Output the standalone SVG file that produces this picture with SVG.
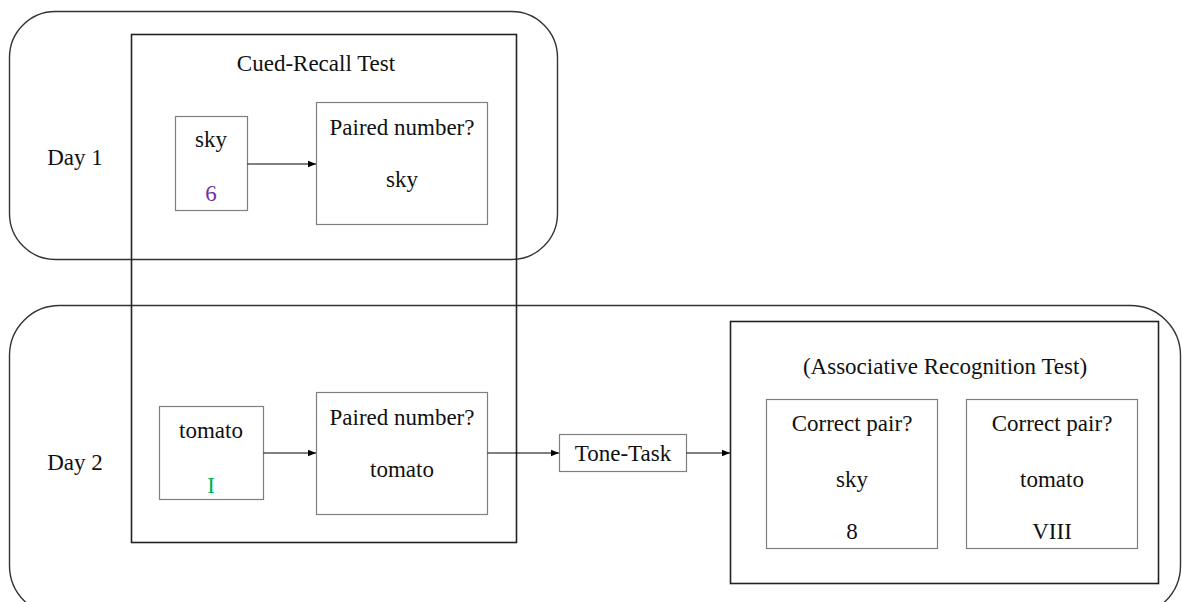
<svg xmlns="http://www.w3.org/2000/svg" width="1182" height="602" viewBox="0 0 1182 602">
<defs>
<marker id="arr" viewBox="0 0 10 10" refX="10" refY="5" markerWidth="8" markerHeight="8" markerUnits="userSpaceOnUse" orient="auto">
<path d="M0,1 L10,5 L0,9 z" fill="#000"/>
</marker>
<style>
.t{font-family:'Liberation Serif','Times New Roman',serif;font-size:23px;fill:#111;text-anchor:middle;dominant-baseline:central}
.day{fill:none;stroke:#333;stroke-width:1.4}
.frame{fill:none;stroke:#222;stroke-width:1.6}
.box{fill:#fff;stroke:#7f7f7f;stroke-width:1.2}
.conn{stroke:#000;stroke-width:1;fill:none;marker-end:url(#arr)}
</style>
</defs>
<rect width="1182" height="602" fill="#fff"/>
<g class="t" font-family="Liberation Serif, Times New Roman, serif" font-size="23">
<g id="day1"><rect class="day" x="9.5" y="11.5" width="548" height="248" rx="46" ry="46"/><text x="75" y="157">Day 1</text></g>
<g id="day2"><rect class="day" x="9.5" y="305.5" width="1171" height="310" rx="50" ry="50"/><text x="75" y="462">Day 2</text></g>
<g id="cued-recall"><rect class="frame" x="131.5" y="34.5" width="385" height="508"/><text x="316" y="63">Cued-Recall Test</text></g>
<g id="sky-card"><rect class="box" x="175.5" y="116.5" width="72" height="94"/><text x="211" y="139">sky</text><text x="211" y="193" fill="#7030A0">6</text></g>
<g id="paired1"><rect class="box" x="316.5" y="102.5" width="171" height="122"/><text x="402" y="127">Paired number?</text><text x="402" y="179">sky</text></g>
<g id="tomato-card"><rect class="box" x="159.5" y="406.5" width="104" height="93"/><text x="211" y="430">tomato</text><text x="211" y="485" fill="#00B050">I</text></g>
<g id="paired2"><rect class="box" x="316.5" y="392.5" width="171" height="122"/><text x="402" y="417">Paired number?</text><text x="402" y="469">tomato</text></g>
<g id="tone-task"><rect class="box" x="559.5" y="434.5" width="127" height="37"/><text x="623" y="453">Tone-Task</text></g>
<g id="assoc"><rect class="frame" x="730.5" y="321.5" width="428" height="262"/><text x="945" y="366">(Associative Recognition Test)</text></g>
<g id="pair-sky"><rect class="box" x="766.5" y="399.5" width="171" height="149"/><text x="852" y="423">Correct pair?</text><text x="852" y="479">sky</text><text x="852" y="531">8</text></g>
<g id="pair-tomato"><rect class="box" x="966.5" y="399.5" width="171" height="149"/><text x="1052" y="423">Correct pair?</text><text x="1052" y="479">tomato</text><text x="1052" y="531">VIII</text></g>
<g id="connectors">
<line class="conn" x1="247.5" y1="164" x2="316" y2="164"/>
<line class="conn" x1="263.5" y1="453" x2="316" y2="453"/>
<line class="conn" x1="487.5" y1="453" x2="559" y2="453"/>
<line class="conn" x1="686.5" y1="453" x2="730" y2="453"/>
</g>
</g>
</svg>
